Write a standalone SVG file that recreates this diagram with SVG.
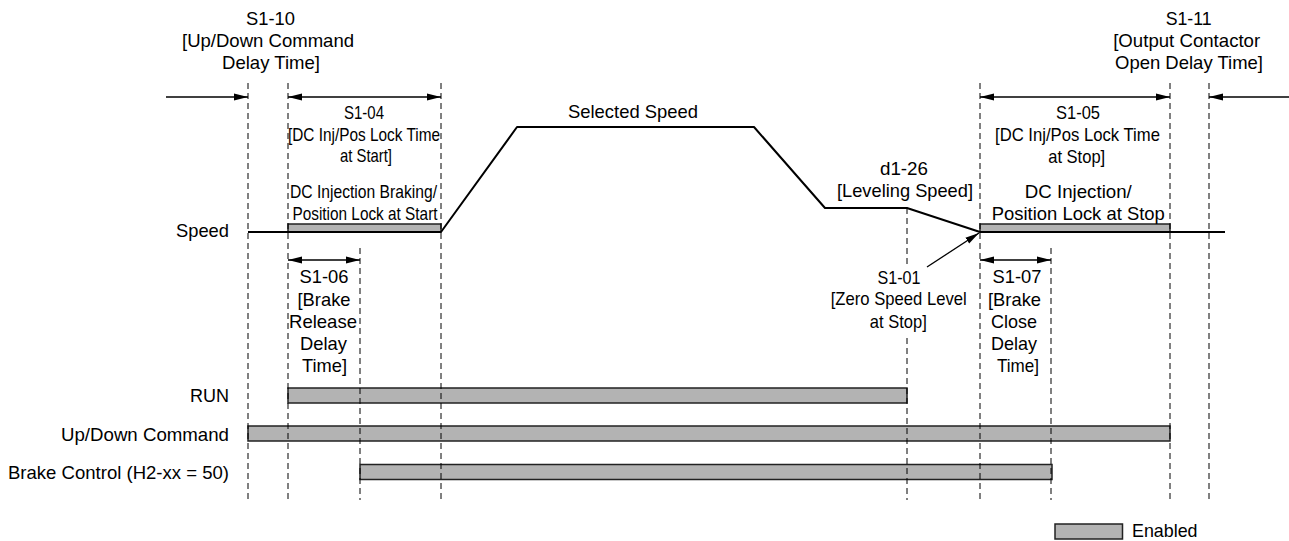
<svg xmlns="http://www.w3.org/2000/svg" width="1289" height="541" viewBox="0 0 1289 541">
<style>
text{font-family:"Liberation Sans",Arial,sans-serif;font-size:18.5px;fill:#000}
.m{text-anchor:middle}
.e{text-anchor:end}
.dash{stroke:#000;stroke-width:1;stroke-dasharray:6,4;fill:none}
.arr{stroke:#000;stroke-width:1.3;fill:none}
.bar{fill:#b3b3b3;stroke:#222;stroke-width:1.5}
.spd{stroke:#000;stroke-width:2;fill:none;stroke-linejoin:round}
</style>
<defs>
<marker id="ah" markerUnits="userSpaceOnUse" markerWidth="14" markerHeight="8" refX="14" refY="4" orient="auto-start-reverse">
<path d="M0,0.5 L14,4 L0,7.5 z" fill="#000"/>
</marker>
</defs>
<rect width="1289" height="541" fill="#fff"/>

<g id="bars">
<rect id="dc-start-bar" class="bar" x="288" y="224" width="153" height="8"/>
<rect id="dc-stop-bar" class="bar" x="980" y="224" width="190" height="8"/>
<rect id="run-bar" class="bar" x="288" y="388" width="619" height="15"/>
<rect id="updown-bar" class="bar" x="248" y="426" width="922" height="15"/>
<rect id="brake-bar" class="bar" x="360" y="464.5" width="692" height="15"/>
<rect id="legend-box" class="bar" x="1055" y="524" width="67.5" height="15"/>
</g>

<g id="speed-profile">
<polyline class="spd" points="248,232 441,232 517,127 754,127 825,208 907,208 980,232 1225,232"/>
</g>

<g id="connectors">
<line class="dash" x1="248" y1="83" x2="248" y2="500"/>
<line class="dash" x1="288" y1="83" x2="288" y2="500"/>
<line class="dash" x1="360" y1="248" x2="360" y2="500"/>
<line class="dash" x1="441" y1="83" x2="441" y2="500"/>
<line class="dash" x1="907" y1="208" x2="907" y2="268"/>
<line class="dash" x1="907" y1="338" x2="907" y2="500"/>
<line class="dash" x1="980" y1="83" x2="980" y2="500"/>
<line class="dash" x1="1051" y1="248" x2="1051" y2="500"/>
<line class="dash" x1="1170" y1="83" x2="1170" y2="500"/>
<line class="dash" x1="1209" y1="83" x2="1209" y2="500"/>

<line class="arr" x1="166" y1="97" x2="248" y2="97" marker-end="url(#ah)"/>
<line class="arr" x1="288" y1="97" x2="441" y2="97" marker-start="url(#ah)" marker-end="url(#ah)"/>
<line class="arr" x1="980" y1="97" x2="1170" y2="97" marker-start="url(#ah)" marker-end="url(#ah)"/>
<line class="arr" x1="1289" y1="97" x2="1209" y2="97" marker-end="url(#ah)"/>
<line class="arr" x1="288" y1="260" x2="360" y2="260" marker-start="url(#ah)" marker-end="url(#ah)"/>
<line class="arr" x1="980" y1="260" x2="1051" y2="260" marker-start="url(#ah)" marker-end="url(#ah)"/>
<line class="arr" x1="927" y1="267" x2="979" y2="233" marker-end="url(#ah)"/>
</g>

<g id="label-s1-10">
<text class="m" x="270.5" y="25" textLength="49" lengthAdjust="spacingAndGlyphs">S1-10</text>
<text class="m" x="268" y="47" textLength="172" lengthAdjust="spacingAndGlyphs">[Up/Down Command</text>
<text class="m" x="271" y="69" textLength="98" lengthAdjust="spacingAndGlyphs">Delay Time]</text>
</g>
<g id="label-s1-11">
<text class="m" x="1188.7" y="25" textLength="46" lengthAdjust="spacingAndGlyphs">S1-11</text>
<text class="m" x="1186.7" y="47" textLength="147" lengthAdjust="spacingAndGlyphs">[Output Contactor</text>
<text class="m" x="1189" y="69" textLength="148" lengthAdjust="spacingAndGlyphs">Open Delay Time]</text>
</g>
<g id="label-s1-04">
<text class="m" x="364" y="119" textLength="40" lengthAdjust="spacingAndGlyphs">S1-04</text>
<text class="m" x="364" y="141" textLength="152" lengthAdjust="spacingAndGlyphs">[DC Inj/Pos Lock Time</text>
<text class="m" x="366" y="162" textLength="52" lengthAdjust="spacingAndGlyphs">at Start]</text>
<text class="m" x="363.5" y="198" textLength="147" lengthAdjust="spacingAndGlyphs">DC Injection Braking/</text>
<text class="m" x="365" y="220" textLength="145" lengthAdjust="spacingAndGlyphs">Position Lock at Start</text>
</g>
<g id="label-selected-speed">
<text class="m" x="633" y="118" textLength="130" lengthAdjust="spacingAndGlyphs">Selected Speed</text>
</g>
<g id="label-d1-26">
<text class="m" x="904" y="175" textLength="48" lengthAdjust="spacingAndGlyphs">d1-26</text>
<text class="m" x="905" y="197" textLength="136" lengthAdjust="spacingAndGlyphs">[Leveling Speed]</text>
</g>
<g id="label-s1-05">
<text class="m" x="1078" y="119" textLength="44" lengthAdjust="spacingAndGlyphs">S1-05</text>
<text class="m" x="1077.5" y="141" textLength="165" lengthAdjust="spacingAndGlyphs">[DC Inj/Pos Lock Time</text>
<text class="m" x="1076.7" y="163" textLength="57" lengthAdjust="spacingAndGlyphs">at Stop]</text>
<text class="m" x="1078.3" y="198" textLength="107" lengthAdjust="spacingAndGlyphs">DC Injection/</text>
<text class="m" x="1078.3" y="220" textLength="173" lengthAdjust="spacingAndGlyphs">Position Lock at Stop</text>
</g>
<g id="label-s1-06">
<text class="m" x="324" y="283" textLength="49" lengthAdjust="spacingAndGlyphs">S1-06</text>
<text class="m" x="324" y="306" textLength="53" lengthAdjust="spacingAndGlyphs">[Brake</text>
<text class="m" x="323" y="328" textLength="68" lengthAdjust="spacingAndGlyphs">Release</text>
<text class="m" x="323.5" y="350" textLength="47" lengthAdjust="spacingAndGlyphs">Delay</text>
<text class="m" x="324.5" y="372" textLength="45" lengthAdjust="spacingAndGlyphs">Time]</text>
</g>
<g id="label-s1-01">
<text class="m" x="899" y="284" textLength="43" lengthAdjust="spacingAndGlyphs">S1-01</text>
<text class="m" x="898.7" y="305" textLength="136" lengthAdjust="spacingAndGlyphs">[Zero Speed Level</text>
<text class="m" x="898.3" y="328" textLength="57" lengthAdjust="spacingAndGlyphs">at Stop]</text>
</g>
<g id="label-s1-07">
<text class="m" x="1017" y="283" textLength="49" lengthAdjust="spacingAndGlyphs">S1-07</text>
<text class="m" x="1014.5" y="306" textLength="53" lengthAdjust="spacingAndGlyphs">[Brake</text>
<text class="m" x="1014" y="328" textLength="46" lengthAdjust="spacingAndGlyphs">Close</text>
<text class="m" x="1014" y="350" textLength="46" lengthAdjust="spacingAndGlyphs">Delay</text>
<text class="m" x="1018" y="372" textLength="42" lengthAdjust="spacingAndGlyphs">Time]</text>
</g>
<g id="row-labels">
<text class="e" x="229" y="237" textLength="53" lengthAdjust="spacingAndGlyphs">Speed</text>
<text class="e" x="229" y="402" textLength="39" lengthAdjust="spacingAndGlyphs">RUN</text>
<text class="e" x="229" y="440.5" textLength="168" lengthAdjust="spacingAndGlyphs">Up/Down Command</text>
<text class="e" x="229" y="479" textLength="221" lengthAdjust="spacingAndGlyphs">Brake Control (H2-xx = 50)</text>
</g>
<g id="legend">
<text x="1132" y="537" textLength="65.5" lengthAdjust="spacingAndGlyphs">Enabled</text>
</g>
</svg>
